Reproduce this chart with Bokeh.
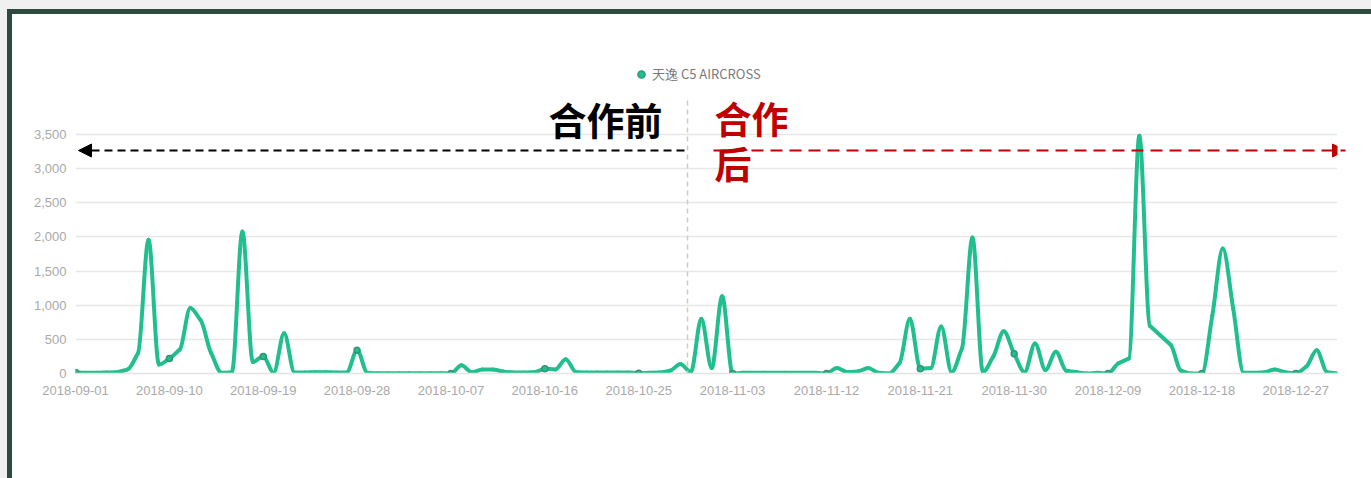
import pandas as pd
from bokeh.plotting import figure
from bokeh.models import (Range1d, FixedTicker, NumeralTickFormatter, Label, Arrow,
                          NormalHead, Legend, LegendItem)
from bokeh.embed import file_html
from bokeh.resources import INLINE

# ---- data -------------------------------------------------------------
series_name = "天逸 C5 AIRCROSS"
dates = pd.date_range("2018-09-01", "2018-12-31", freq="D").strftime("%Y-%m-%d").tolist()
counts = [
    15, 10, 10, 15, 20, 60, 300, 1960, 130, 220,
    350, 960, 780, 300, 10, 20, 2080, 170, 250, 10,
    590, 15, 15, 20, 20, 15, 15, 340, 10, 5,
    5, 5, 5, 5, 5, 5, 0, 120, 20, 60,
    60, 30, 15, 15, 20, 70, 60, 210, 20, 15,
    15, 15, 15, 15, 5, 10, 15, 40, 140, 20,
    800, 80, 1130, 0, 10, 10, 10, 10, 10, 10,
    10, 10, 0, 80, 20, 30, 80, 10, 0, 150,
    800, 70, 80, 690, 20, 370, 1990, 20, 250, 620,
    290, 20, 440, 50, 320, 40, 20, 0, 10, 0,
    150, 220, 3480, 700, 560, 420, 40, 0, 0, 850,
    1830, 950, 10, 10, 20, 60, 20, 0, 100, 340,
    20, 0,
]
y_ticks = [0, 500, 1000, 1500, 2000, 2500, 3000, 3500]
label_step = 9
before_text = "合作前"
after_text = "合作\n后"

# ---- layout -----------------------------------------------------------
W, H = 1371, 478
FL, FR, FT, FB = 75, 1337, 60, 373      # plot frame edges (canvas px)
GRID_TOP_PX = 134                        # where the 3,500 gridline sits
n = len(counts)
days = list(range(n))
y_end = y_ticks[-1] * (FB - FT) / (FB - GRID_TOP_PX)


def cx(px):
    return (px - FL) * (n - 1) / (FR - FL)


def cy(py):
    return (FB - py) * y_end / (FB - FT)


LINE = "#22bf8e"
DOT = "#2e9676"
GREY_TXT = "#a9a9a9"
CJK = "Noto Sans CJK SC"
PAGE = "#f0f0f0"
EDGE = "#2c4a3e"

p = figure(width=W, height=H, output_backend="svg", toolbar_location=None,
           x_range=Range1d(0, n - 1), y_range=Range1d(0, y_end),
           min_border_left=FL, min_border_right=W - FR,
           min_border_top=FT, min_border_bottom=H - FB)
p.outline_line_color = None
p.background_fill_color = "white"
p.border_fill_alpha = 0
# grey page edge with a dark green rule along the top and left
p.styles = {"background-color": "white",
            "box-shadow": f"inset 7px 9px 0 0 {PAGE}, inset 12px 14px 0 0 {EDGE}"}

# ---- axes & grid ------------------------------------------------------
p.xgrid.grid_line_color = None
p.ygrid.grid_line_color = "#e7e7e7"
p.ygrid.grid_line_width = 1.5
p.yaxis.ticker = FixedTicker(ticks=y_ticks)
p.yaxis.formatter = NumeralTickFormatter(format="0,0")
p.yaxis.axis_line_color = None
p.yaxis.major_tick_line_color = None
p.yaxis.minor_tick_line_color = None
p.yaxis.major_label_standoff = 3

tick_days = days[::label_step]
p.xaxis.ticker = FixedTicker(ticks=tick_days)
p.xaxis.major_label_overrides = {d: dates[d] for d in tick_days}
p.xaxis.axis_line_color = "#e3e3e3"
p.xaxis.axis_line_width = 1.5
p.xaxis.major_tick_line_color = None
p.xaxis.minor_tick_line_color = None
p.xaxis.major_label_standoff = 6

for ax in (p.xaxis[0], p.yaxis[0]):
    ax.major_label_text_font = "Liberation Sans"
    ax.major_label_text_font_size = "13px"
    ax.major_label_text_color = GREY_TXT

# ---- smooth line (monotone cubic segments) ----------------------------
def slopes(xs, ys):
    m = [0.0] * len(xs)
    sec = [(ys[i + 1] - ys[i]) / (xs[i + 1] - xs[i]) for i in range(len(xs) - 1)]
    for i in range(1, len(xs) - 1):
        s0, s1 = sec[i - 1], sec[i]
        if s0 * s1 <= 0:
            m[i] = 0.0
        else:
            sgn = 1 if s0 > 0 else -1
            m[i] = sgn * min(abs(s0), abs(s1), abs(s0 + s1) / 2)
    m[0] = sec[0]
    m[-1] = sec[-1]
    return m


m = slopes(days, counts)
seg = dict(x0=[], y0=[], x1=[], y1=[], cx0=[], cy0=[], cx1=[], cy1=[])
for i in range(n - 1):
    h = days[i + 1] - days[i]
    seg["x0"].append(days[i]); seg["y0"].append(counts[i])
    seg["x1"].append(days[i + 1]); seg["y1"].append(counts[i + 1])
    seg["cx0"].append(days[i] + h / 3); seg["cy0"].append(counts[i] + m[i] * h / 3)
    seg["cx1"].append(days[i + 1] - h / 3); seg["cy1"].append(counts[i + 1] - m[i + 1] * h / 3)

p.bezier(source=seg, x0="x0", y0="y0", x1="x1", y1="y1",
         cx0="cx0", cy0="cy0", cx1="cx1", cy1="cy1",
         line_color=LINE, line_width=4, line_cap="round", line_join="round")

dots = p.scatter(x=tick_days, y=[counts[d] for d in tick_days], size=6,
                 fill_color=LINE, line_color=DOT, line_width=1.5)

legend = Legend(items=[LegendItem(label=series_name, renderers=[dots])],
                location=(557, FB - 83), orientation="horizontal",
                glyph_width=18, glyph_height=18, label_standoff=2,
                padding=0, margin=0, border_line_alpha=0, background_fill_alpha=0,
                label_text_font=CJK, label_text_font_size="13px",
                label_text_color="#7a7a7a")
p.add_layout(legend, "center")

# ---- before / after annotation ---------------------------------------
p.add_layout(Arrow(end=None, x_start=cx(687), y_start=cy(100), x_end=cx(687), y_end=cy(406),
                   line_color="#d8cca8", line_width=1.5, line_dash="5 4"))

p.add_layout(Arrow(start=NormalHead(size=13, fill_color="black", line_color="black"), end=None,
                   x_start=cx(78), y_start=cy(150), x_end=cx(684), y_end=cy(150),
                   line_color="black", line_width=2, line_dash="8 5"))
p.add_layout(Arrow(end=NormalHead(size=13, fill_color="#c00000", line_color="#c00000"),
                   x_start=cx(713), y_start=cy(150), x_end=cx(1345), y_end=cy(150),
                   line_color="#c00000", line_width=2, line_dash="12 7"))

p.add_layout(Label(x=cx(548), y=cy(118), text=before_text, text_align="left",
                   text_baseline="middle", text_font=CJK,
                   text_font_style="bold", text_font_size="38px", text_color="black"))
p.add_layout(Label(x=cx(714), y=cy(90), text=after_text, text_align="left",
                   text_baseline="top", text_font=CJK,
                   text_font_style="bold", text_font_size="37px", text_color="#c00000",
                   text_line_height=0.85))

open("out.html", "w").write(file_html(p, INLINE))
